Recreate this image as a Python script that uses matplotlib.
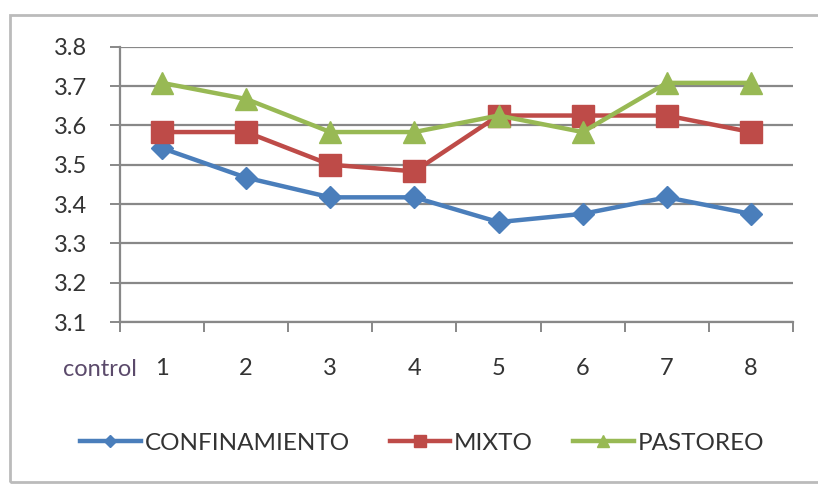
import matplotlib.pyplot as plt
import matplotlib.patches as patches
from matplotlib.ticker import FixedLocator, NullFormatter
import numpy as np

controles = ["1", "2", "3", "4", "5", "6", "7", "8"]
confinamiento = [3.542, 3.467, 3.417, 3.417, 3.354, 3.375, 3.417, 3.375]
mixto = [3.583, 3.583, 3.500, 3.483, 3.625, 3.625, 3.625, 3.583]
pastoreo = [3.708, 3.667, 3.583, 3.583, 3.625, 3.583, 3.708, 3.708]
y_ticks = [3.1, 3.2, 3.3, 3.4, 3.5, 3.6, 3.7, 3.8]

plt.rcParams["font.family"] = ["Lato", "DejaVu Sans"]

fig = plt.figure(figsize=(8.18, 4.84), dpi=100)
ax = fig.add_axes([0.1467, 0.3347, 0.8227, 0.5688])

x = np.arange(len(controles))
ax.plot(x, confinamiento, color="#4a7ebb", lw=3.2, marker="D", ms=11.5,
        label="CONFINAMIENTO", zorder=3)
ax.plot(x, mixto, color="#be4b48", lw=3.2, marker="s", ms=16,
        label="MIXTO", zorder=3)
ax.plot(x, pastoreo, color="#98b954", lw=3.2, marker="^", ms=16,
        label="PASTOREO", zorder=3)

ax.set_xlim(-0.5, len(controles) - 0.5)
ax.set_ylim(3.1, 3.8)
ax.set_yticks(y_ticks)
ax.set_yticklabels([f"{v:.1f}" for v in y_ticks])
ax.grid(axis="y", color="#888888", lw=1.6)
ax.set_axisbelow(True)

# tick marks sit on the category boundaries, labels in the middle
ax.xaxis.set_major_locator(FixedLocator(np.arange(-0.5, len(controles), 1.0)))
ax.xaxis.set_major_formatter(NullFormatter())
ax.xaxis.set_minor_locator(FixedLocator(x))
ax.set_xticklabels(controles, minor=True)
ax.tick_params(axis="x", which="major", length=7, width=1.4, color="#888888")
ax.tick_params(axis="x", which="minor", length=0, pad=26, labelsize=17,
               labelcolor="#333333")
ax.tick_params(axis="y", length=7, width=1.4, color="#888888", pad=16.5,
               labelsize=17, labelcolor="#333333")

for s in ["top", "right"]:
    ax.spines[s].set_visible(False)
for s in ["left", "bottom"]:
    ax.spines[s].set_color("#888888")
    ax.spines[s].set_linewidth(1.6)

fig.text(100 / 818, 1 - 370 / 484, "control", color="#5b4a6b", fontsize=17,
         ha="center", va="center")

leg = fig.legend(loc="center", bbox_to_anchor=(422 / 818, 1 - 443 / 484),
                 ncol=3, frameon=False, fontsize=17.5, handlelength=2.5,
                 handletextpad=0.15, columnspacing=1.65, markerscale=0.5)
for t in leg.get_texts():
    t.set_color("#333333")

# outer chart frame
fig.patches.append(patches.Rectangle((10 / 818, 2 / 484), 830 / 818, 467 / 484,
                                     transform=fig.transFigure, fill=False,
                                     edgecolor="#bbbbbb", lw=2))

fig.savefig("out.png", dpi=100)
